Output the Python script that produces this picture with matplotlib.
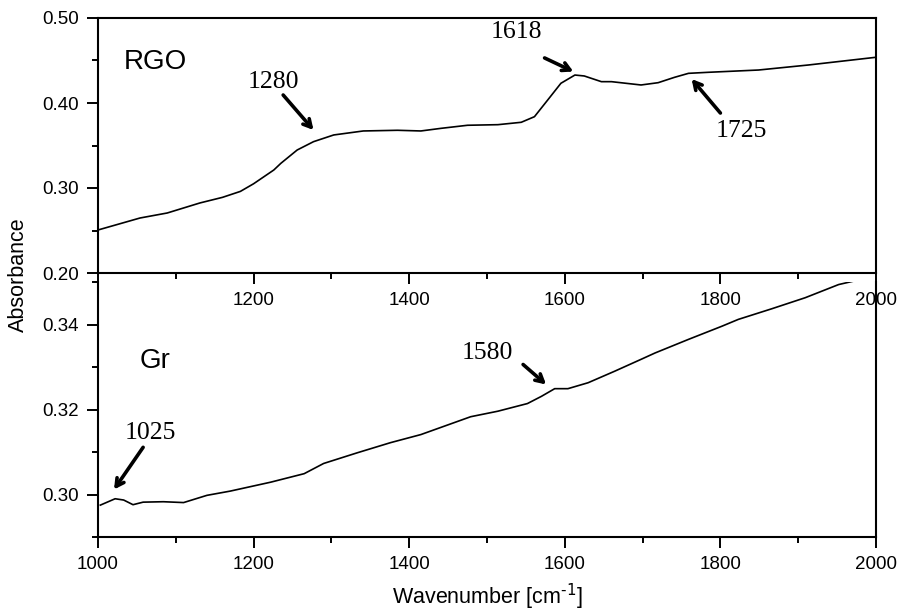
import matplotlib
matplotlib.use("Agg")
import matplotlib.pyplot as plt
from matplotlib.ticker import MultipleLocator, FixedLocator, FixedFormatter

plt.rcParams['font.family'] = ['Liberation Sans', 'DejaVu Sans']
plt.rcParams['mathtext.default'] = 'regular'

# RGO spectrum (top panel)
rgo_wn = [1000, 1054, 1089, 1131, 1160, 1183, 1200, 1226, 1235, 1256, 1277, 1303, 1341,
          1385, 1415, 1441, 1475, 1514, 1544, 1561, 1578, 1595, 1613, 1625, 1647,
          1660, 1698, 1720, 1741, 1759, 1784, 1849, 1913, 2000]
rgo_abs = [0.2506, 0.2647, 0.2706, 0.2824, 0.2890, 0.2960, 0.3050, 0.3212, 0.3290, 0.3447,
           0.3545, 0.3624, 0.3671, 0.3679, 0.3671, 0.3702, 0.3738, 0.3745, 0.3773,
           0.3839, 0.4035, 0.4232, 0.4329, 0.4318, 0.4251, 0.4251, 0.4212, 0.4239,
           0.4302, 0.4349, 0.4361, 0.4388, 0.4447, 0.4538]

# Graphite spectrum (bottom panel)
gr_wn = [1003, 1022, 1033, 1045, 1058, 1084, 1110, 1140, 1170, 1222, 1265, 1290,
         1333, 1376, 1415, 1479, 1514, 1552, 1570, 1587, 1604, 1630, 1664, 1698,
         1716, 1759, 1802, 1823, 1866, 1909, 1952, 1971]
gr_abs = [0.2975, 0.2990, 0.2987, 0.2976, 0.2982, 0.2983, 0.2981, 0.2998, 0.3008,
          0.3029, 0.3049, 0.3073, 0.3098, 0.3122, 0.3141, 0.3183, 0.3196, 0.3214,
          0.3231, 0.3249, 0.3249, 0.3263, 0.3290, 0.3318, 0.3333, 0.3365, 0.3396,
          0.3412, 0.3437, 0.3463, 0.3494, 0.3502]

x_major = [1000, 1200, 1400, 1600, 1800, 2000]
top_xlabels = ['', '1200', '1400', '1600', '1800', '2000']
bot_xlabels = ['1000', '1200', '1400', '1600', '1800', '2000']
top_yticks = [0.20, 0.30, 0.40, 0.50]
bot_yticks = [0.30, 0.32, 0.34]

W, H = 901, 611
fig = plt.figure(figsize=(W / 100, H / 100), dpi=100)
ax2 = fig.add_axes([98 / W, 1 - 537 / H, 778 / W, 255 / H])
ax1 = fig.add_axes([98 / W, 1 - 273 / H, 778 / W, 255 / H])
ax1.patch.set_alpha(0)
ax2.patch.set_alpha(0)

lw_sp = 1.5
tick_fs = 13.5
for ax in (ax1, ax2):
    for s in ax.spines.values():
        s.set_linewidth(lw_sp)
    ax.set_xlim(1000, 2000)
    ax.xaxis.set_major_locator(FixedLocator(x_major))
    ax.xaxis.set_minor_locator(MultipleLocator(100))
    ax.tick_params(which='major', direction='out', length=8, width=1.4,
                   labelsize=tick_fs, pad=6)
    ax.tick_params(which='minor', direction='out', length=4.5, width=1.4)
    ax.tick_params(axis='both', which='both', top=False, right=False)

ax1.plot(rgo_wn, rgo_abs, color='black', lw=1.2)
ax1.set_ylim(0.20, 0.50)
ax1.yaxis.set_major_locator(FixedLocator(top_yticks))
ax1.yaxis.set_minor_locator(MultipleLocator(0.05))
ax1.yaxis.set_major_formatter(FixedFormatter(['%.2f' % v for v in top_yticks]))
ax1.xaxis.set_major_formatter(FixedFormatter(top_xlabels))

ax2.plot(gr_wn, gr_abs, color='black', lw=1.2, clip_on=True)
ax2.set_ylim(0.29, 0.35)
ax2.spines['top'].set_visible(False)
ax2.yaxis.set_major_locator(FixedLocator(bot_yticks))
ax2.yaxis.set_minor_locator(FixedLocator([0.29, 0.31, 0.33, 0.35]))
ax2.yaxis.set_major_formatter(FixedFormatter(['%.2f' % v for v in bot_yticks]))
ax2.xaxis.set_major_formatter(FixedFormatter(bot_xlabels))

serif = ['Liberation Serif', 'DejaVu Serif']
num_fs = 18.5
arrow = dict(arrowstyle='->,head_length=0.55,head_width=0.3', lw=2.6,
             color='black', shrinkA=0, shrinkB=0)

ax1.text(1073.5, 0.4482, 'RGO', fontsize=20, ha='center', va='center')
ax1.text(1225.5, 0.4247, '1280', fontsize=num_fs, family=serif, ha='center', va='center')
ax1.annotate('', xy=(1277, 0.3682), xytext=(1238, 0.4094), arrowprops=arrow)
ax1.text(1538, 0.4835, '1618', fontsize=num_fs, family=serif, ha='center', va='center')
ax1.annotate('', xy=(1611, 0.4370), xytext=(1574, 0.4530), arrowprops=arrow)
ax1.text(1826.6, 0.3671, '1725', fontsize=num_fs, family=serif, ha='center', va='center')
ax1.annotate('', xy=(1763, 0.4282), xytext=(1800, 0.3882), arrowprops=arrow)

ax2.text(1073.5, 0.3313, 'Gr', fontsize=20, ha='center', va='center')
ax2.text(1067, 0.31447, '1025', fontsize=num_fs, family=serif, ha='center', va='center')
ax2.annotate('', xy=(1020.6, 0.30118), xytext=(1058, 0.3111), arrowprops=arrow)
ax2.text(1500.6, 0.3333, '1580', fontsize=num_fs, family=serif, ha='center', va='center')
ax2.annotate('', xy=(1576, 0.32588), xytext=(1546.4, 0.33059), arrowprops=arrow)

fig.text(18 / W, 1 - 275 / H, 'Absorbance', rotation=90, ha='center', va='center',
         fontsize=15.5)
fig.text(487 / W, 1 - 597 / H, r'Wavenumber [cm$^{\text{-1}}$]', ha='center', va='center',
         fontsize=15.5)

fig.savefig('out.png', dpi=100)
